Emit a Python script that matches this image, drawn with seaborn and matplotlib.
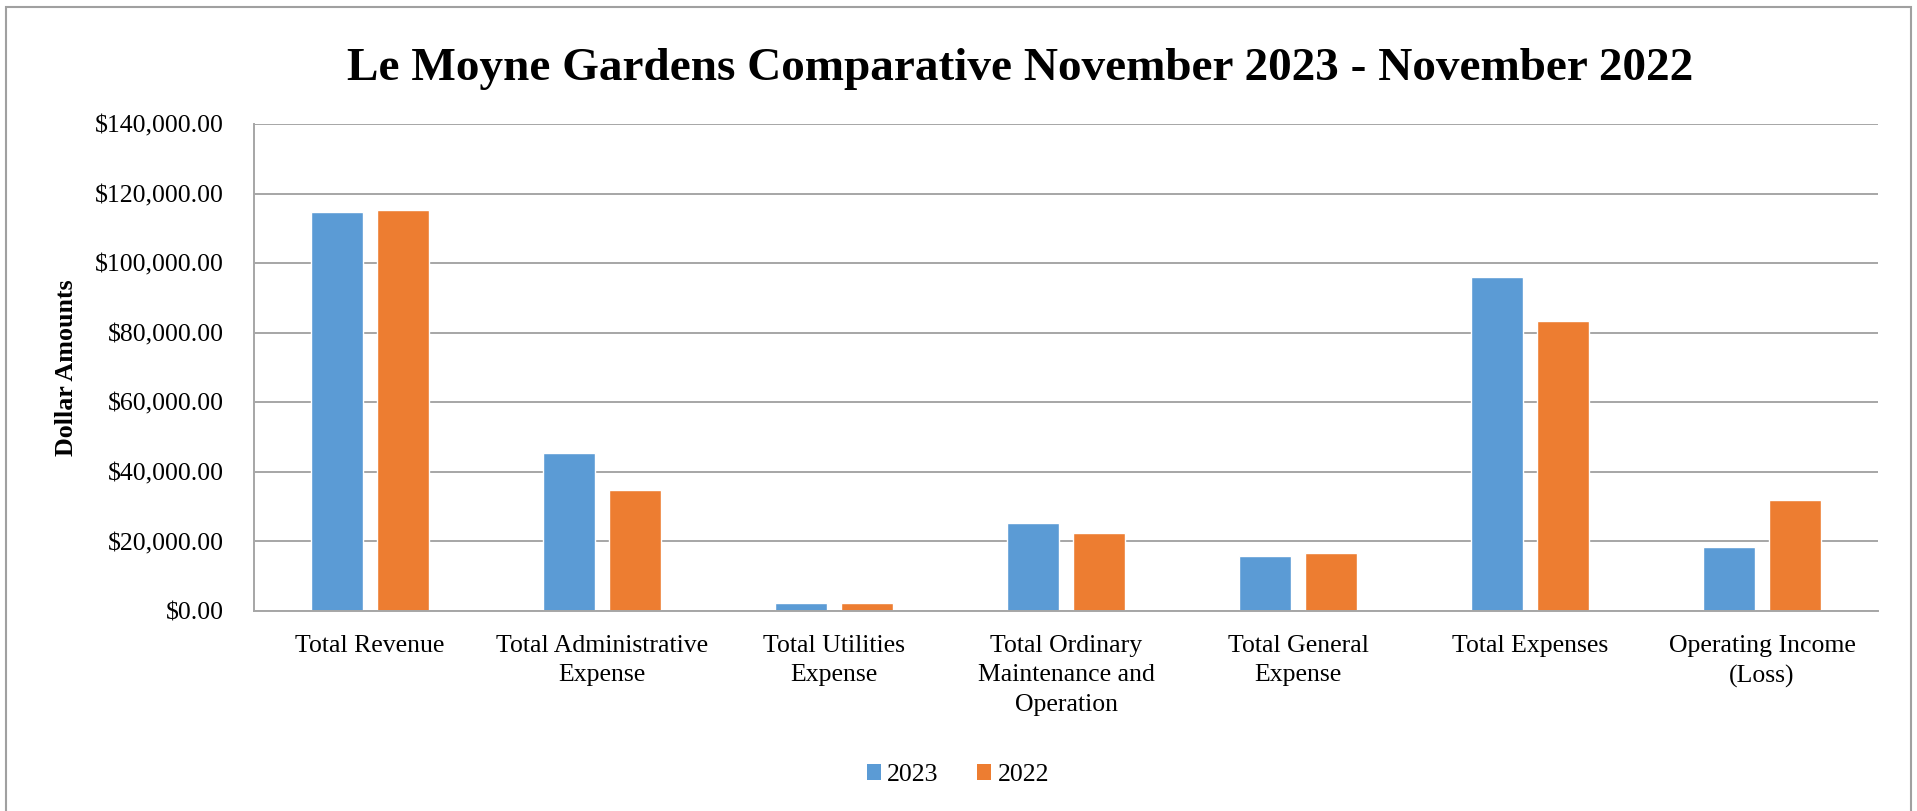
import matplotlib
matplotlib.use("Agg")
import matplotlib.pyplot as plt
import matplotlib.ticker as mticker
from matplotlib.patches import Rectangle, Patch
import seaborn as sns
import pandas as pd

categories = ["Total Revenue", "Total Administrative\nExpense", "Total Utilities\nExpense",
              "Total Ordinary\nMaintenance and\nOperation", "Total General\nExpense",
              "Total Expenses", "Operating Income\n(Loss)"]
values_2023 = [114700, 45400, 2400, 25300, 15900, 96100, 18400]
values_2022 = [115400, 34800, 2300, 22500, 16700, 83500, 31900]
series = ["2023", "2022"]
colors = ["#5B9BD5", "#ED7D31"]
y_ticks = [0, 20000, 40000, 60000, 80000, 100000, 120000, 140000]

df = pd.DataFrame({
    "category": categories * 2,
    "year": [series[0]] * len(categories) + [series[1]] * len(categories),
    "value": values_2023 + values_2022,
})

sns.set_theme(style="white")
plt.rcParams['font.family'] = ['Liberation Serif', 'DejaVu Serif']
plt.rcParams.update({"text.color": "black", "axes.labelcolor": "black",
                     "xtick.color": "black", "ytick.color": "black"})

W, H = 1917, 811
fig = plt.figure(figsize=(W / 100, H / 100), dpi=100)
ax = fig.add_axes([254 / W, 1 - 611 / H, (1878 - 254) / W, (611 - 124.3) / H])

sns.barplot(data=df, x="category", y="value", hue="year", hue_order=series,
            palette=colors, width=0.57, gap=0.21, saturation=1, ax=ax,
            legend=False, errorbar=None)

ax.set_ylim(0, 140000)
ax.set_yticks(y_ticks)
ax.yaxis.set_major_formatter(mticker.FuncFormatter(lambda v, p: f"${v:,.2f}"))
ax.set_xlim(-0.5, len(categories) - 0.5)
ax.grid(axis="y", color="#a6a6a6", linewidth=1.4)
ax.set_axisbelow(True)
for s in ["top", "right"]:
    ax.spines[s].set_visible(False)
for s in ["left", "bottom"]:
    ax.spines[s].set_color("#a6a6a6")
    ax.spines[s].set_linewidth(1.4)
ax.tick_params(axis="y", length=0, pad=21.6, labelsize=18.5, labelcolor="black")
ax.tick_params(axis="x", length=0, pad=17, labelsize=18.5, labelcolor="black")
for lab in ax.get_xticklabels():
    lab.set_linespacing(1.45)
ax.set_xlabel("")
ax.set_ylabel("Dollar Amounts", fontsize=18.7, fontweight="bold", labelpad=12, color="black")

fig.text(1020 / W, 1 - 80 / H, "Le Moyne Gardens Comparative November 2023 - November 2022",
         ha="center", va="baseline", fontsize=34, fontweight="bold", color="black")

handles = [Patch(facecolor=c, edgecolor="none", label=l) for c, l in zip(colors, series)]
fig.legend(handles=handles, loc="center", bbox_to_anchor=(958 / W, 1 - 775 / H), ncol=2,
           frameon=False, fontsize=18.5, handlelength=0.55, handleheight=0.55,
           handletextpad=0.25, columnspacing=1.5, labelcolor="black")

fig.patches.append(Rectangle((6 / W, -0.05), (1911 - 6) / W, (1 - 7 / H) + 0.05,
                             transform=fig.transFigure, fill=False,
                             edgecolor="#a0a0a0", linewidth=1.5))

fig.savefig("out.png", dpi=100)
